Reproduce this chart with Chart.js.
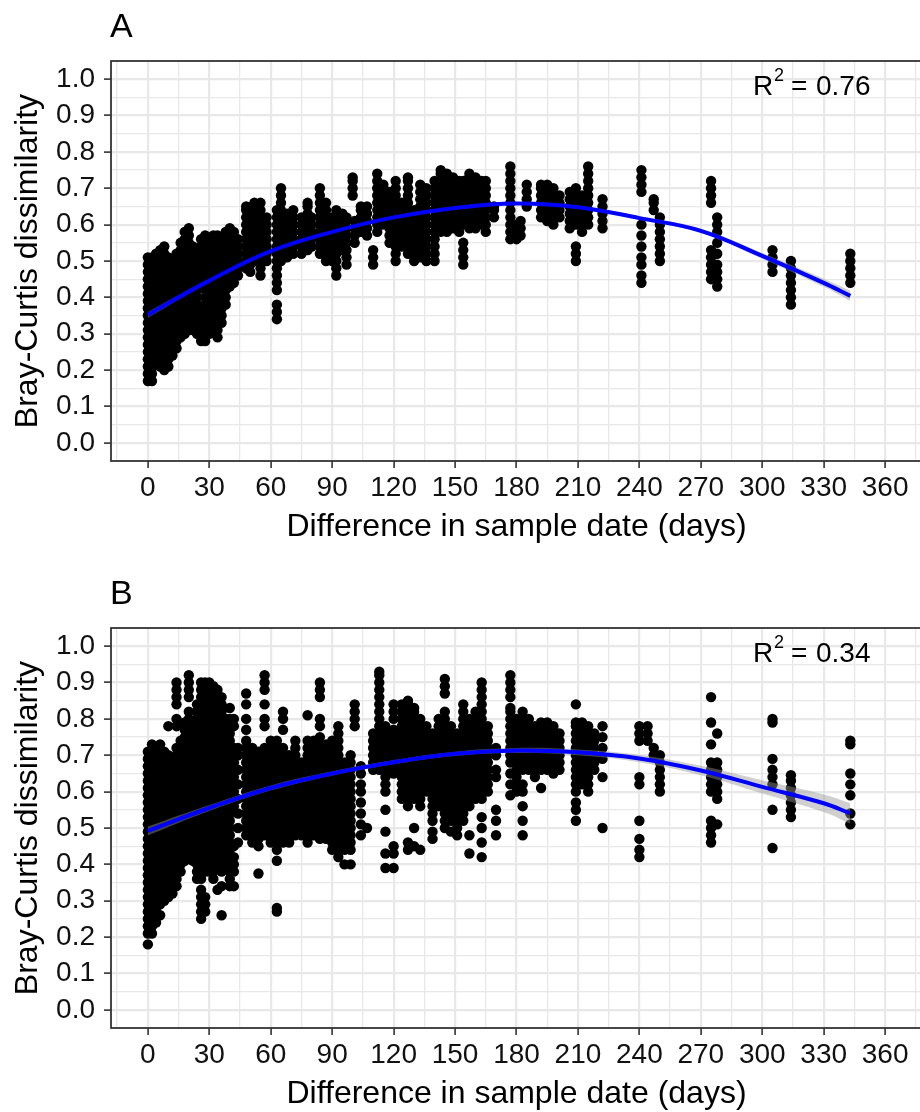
<!DOCTYPE html>
<html>
<head>
<meta charset="utf-8">
<script src="https://cdn.jsdelivr.net/npm/chart.js@4.4.1/dist/chart.umd.min.js"></script>
<style>
  html, body { margin: 0; padding: 0; background: #fff; width: 920px; height: 1112px; overflow: hidden; }
  .panel { position: absolute; left: 0; }
  .panel canvas { display: block; }
  #wrapA { top: 0; }
  #wrapB { top: 567px; }
</style>
</head>
<body>
<div class="panel" id="wrapA"><canvas id="chartA" width="940" height="556"></canvas></div>
<div class="panel" id="wrapB"><canvas id="chartB" width="940" height="556"></canvas></div>
<script>
// axis ticks
const xMajor = [0, 30, 60, 90, 120, 150, 180, 210, 240, 270, 300, 330, 360];
const xLabels = ['0', '30', '60', '90', '120', '150', '180', '210', '240', '270', '300', '330', '360'];
const xMinor = [-15, 15, 45, 75, 105, 135, 165, 195, 225, 255, 285, 315, 345, 375];
const yMajor = [0, 0.1, 0.2, 0.3, 0.4, 0.5, 0.6, 0.7, 0.8, 0.9, 1];
const yLabels = ['0.0', '0.1', '0.2', '0.3', '0.4', '0.5', '0.6', '0.7', '0.8', '0.9', '1.0'];
const yMinor = [0.05, 0.15, 0.25, 0.35, 0.45, 0.55, 0.65, 0.75, 0.85, 0.95];

// panel A: days between samples and the dissimilarities stacked at each day
const daysA = [0, 1, 2, 4, 6, 8, 10, 12, 14, 16, 18, 20, 22, 24, 26, 28, 30, 32, 34, 36, 38, 40, 42, 44,
  48, 50, 52, 55, 58, 63, 65, 68, 71, 75, 78, 80, 84, 87, 90, 92, 95, 97, 100, 101, 104, 107, 110,
  112, 115, 118, 121, 124, 127, 130, 133, 136, 140, 143, 146, 149, 152, 154, 157, 160, 163, 165,
  169, 177, 180, 182, 185, 192, 195, 198, 201, 206, 209, 212, 215, 222, 241, 247, 250, 275, 278,
  305, 314, 343];
const simA = [
  [0.17,0.19,0.21,0.23,0.25,0.27,0.29,0.31,0.33,0.35,0.37,0.39,0.41,0.43,0.45,0.47,0.49,0.51],
  [0.18,0.20,0.22,0.24,0.26,0.28,0.30,0.32,0.34,0.36,0.38,0.40,0.42,0.44,0.46,0.48,0.50],
  [0.17,0.19,0.21,0.23,0.25,0.27,0.29,0.31,0.33,0.35,0.37,0.39,0.41,0.43,0.45,0.47,0.49,0.51],
  [0.22,0.24,0.26,0.28,0.30,0.32,0.34,0.36,0.38,0.40,0.42,0.44,0.46,0.48,0.50,0.52],
  [0.21,0.23,0.25,0.27,0.29,0.31,0.33,0.35,0.37,0.39,0.41,0.43,0.45,0.47,0.49,0.51,0.53],
  [0.20,0.22,0.24,0.26,0.28,0.30,0.32,0.34,0.36,0.38,0.40,0.42,0.44,0.46,0.48,0.50,0.52,0.54],
  [0.21,0.23,0.25,0.27,0.29,0.31,0.33,0.35,0.37,0.39,0.41,0.43,0.45,0.47,0.49,0.51],
  [0.24,0.26,0.28,0.30,0.32,0.34,0.36,0.38,0.40,0.42,0.44,0.46,0.48,0.50],
  [0.26,0.28,0.30,0.32,0.34,0.36,0.38,0.40,0.42,0.44,0.46,0.48,0.50,0.52],
  [0.29,0.31,0.33,0.35,0.37,0.39,0.41,0.43,0.45,0.47,0.49,0.51,0.53,0.55],
  [0.30,0.32,0.34,0.36,0.38,0.40,0.42,0.44,0.46,0.48,0.50,0.52,0.54,0.56,0.58],
  [0.31,0.33,0.35,0.37,0.39,0.41,0.43,0.45,0.47,0.49,0.51,0.53,0.55,0.57,0.59],
  [0.31,0.33,0.35,0.37,0.39,0.41,0.43,0.45,0.47,0.49,0.51,0.53,0.54],
  [0.30,0.32,0.34,0.36,0.38,0.40,0.42,0.44,0.46,0.48,0.50,0.52],
  [0.28,0.30,0.32,0.34,0.36,0.44,0.46,0.48,0.50,0.52,0.54,0.56],
  [0.28,0.30,0.32,0.34,0.36,0.38,0.40,0.42,0.44,0.46,0.48,0.50,0.52,0.54,0.56,0.57],
  [0.30,0.32,0.34,0.36,0.38,0.40,0.42,0.44,0.46,0.48,0.50,0.52,0.54,0.56],
  [0.31,0.33,0.35,0.37,0.39,0.41,0.43,0.45,0.47,0.49,0.51,0.53,0.55,0.57],
  [0.29,0.31,0.33,0.35,0.37,0.39,0.41,0.43,0.45,0.47,0.49,0.51,0.53,0.55,0.57],
  [0.33,0.35,0.37,0.39,0.41,0.43,0.45,0.47,0.49,0.51,0.53,0.55],
  [0.38,0.40,0.42,0.44,0.46,0.48,0.50,0.52,0.54,0.56,0.58],
  [0.43,0.45,0.47,0.49,0.51,0.53,0.55,0.57,0.59],
  [0.44,0.46,0.48,0.50,0.52,0.54,0.56,0.58],
  [0.46,0.48,0.50,0.52,0.54,0.56],
  [0.48,0.50,0.52,0.54,0.56,0.58,0.60,0.62,0.64,0.65],
  [0.47,0.49,0.51,0.53,0.55,0.57,0.59,0.61,0.63],
  [0.50,0.52,0.54,0.56,0.58,0.60,0.62,0.64,0.66],
  [0.46,0.48,0.50,0.52,0.54,0.56,0.58,0.60,0.62,0.64,0.66],
  [0.50,0.52,0.54,0.56,0.58,0.60,0.62],
  [0.34,0.36,0.38,0.42,0.44,0.46,0.48,0.50,0.52,0.54,0.56,0.58,0.60,0.62,0.64],
  [0.50,0.52,0.54,0.56,0.58,0.60,0.62,0.64,0.66,0.68,0.70],
  [0.51,0.53,0.55,0.57,0.59,0.61,0.63],
  [0.52,0.54,0.56,0.58,0.60,0.62,0.64],
  [0.52,0.54,0.56,0.58,0.60,0.62],
  [0.53,0.55,0.57,0.59,0.61,0.63,0.65,0.66],
  [0.54,0.56,0.58,0.60,0.62],
  [0.52,0.54,0.56,0.58,0.60,0.62,0.64,0.66,0.68,0.70],
  [0.50,0.52,0.54,0.56,0.58,0.60,0.62,0.64,0.66],
  [0.50,0.52,0.54,0.56,0.58,0.60,0.62],
  [0.46,0.48,0.50,0.52,0.54,0.56,0.58,0.60,0.62,0.64],
  [0.53,0.55,0.57,0.59,0.61,0.63],
  [0.49,0.51,0.53,0.55,0.57,0.59,0.61,0.62],
  [0.68,0.70,0.72,0.73],
  [0.55,0.57,0.59,0.61],
  [0.58,0.60,0.62,0.64,0.65],
  [0.57,0.59,0.61,0.63,0.65],
  [0.49,0.51,0.53],
  [0.58,0.60,0.62,0.64,0.66,0.68,0.70,0.72,0.74],
  [0.60,0.62,0.64,0.66,0.68,0.70,0.71],
  [0.55,0.57,0.59,0.61,0.63,0.65,0.67,0.69],
  [0.50,0.52,0.54,0.56,0.58,0.60,0.62,0.64,0.66,0.68,0.70,0.72],
  [0.54,0.56,0.58,0.60,0.62,0.64,0.66],
  [0.52,0.54,0.56,0.58,0.60,0.62,0.64,0.66,0.68,0.70,0.72,0.73],
  [0.50,0.52,0.54,0.56,0.58,0.60,0.62,0.64],
  [0.51,0.53,0.55,0.57,0.59,0.61,0.63,0.65,0.67,0.69,0.71],
  [0.50,0.52,0.54,0.56,0.58,0.60,0.62,0.64,0.66,0.68,0.70],
  [0.50,0.52,0.54,0.56,0.58,0.60,0.62,0.64,0.66,0.68,0.70,0.72],
  [0.58,0.60,0.62,0.64,0.66,0.68,0.70,0.72,0.74,0.75],
  [0.58,0.60,0.62,0.64,0.66,0.68,0.70,0.72,0.74],
  [0.59,0.61,0.63,0.65,0.67,0.69,0.71,0.73],
  [0.58,0.60,0.62,0.64,0.66,0.68,0.70,0.72],
  [0.49,0.51,0.53,0.55,0.60,0.62,0.64,0.66,0.68,0.70,0.72],
  [0.59,0.61,0.63,0.65,0.67,0.69,0.71,0.73,0.74],
  [0.59,0.61,0.63,0.65,0.67,0.69,0.71,0.73],
  [0.60,0.62,0.64,0.66,0.68,0.70,0.72],
  [0.58,0.60,0.62,0.64,0.66,0.68,0.70,0.72],
  [0.62,0.64,0.65],
  [0.56,0.58,0.60,0.62,0.64,0.66,0.68,0.70,0.72,0.74,0.76],
  [0.56,0.58,0.60],
  [0.57,0.59,0.61],
  [0.65,0.67,0.69,0.71],
  [0.62,0.64,0.66,0.68,0.70,0.71],
  [0.61,0.63,0.65,0.67,0.69,0.71],
  [0.60,0.62,0.64,0.66,0.68,0.70],
  [0.62,0.64,0.66,0.68],
  [0.59,0.61,0.63,0.65,0.67,0.69],
  [0.50,0.52,0.54,0.60,0.62,0.64,0.66,0.68,0.70],
  [0.58,0.60,0.62,0.64,0.66,0.68],
  [0.60,0.62,0.64,0.66,0.68,0.70,0.72,0.74,0.76],
  [0.59,0.61,0.63,0.65,0.67],
  [0.44,0.46,0.49,0.51,0.54,0.57,0.60,0.69,0.71,0.73,0.75],
  [0.64,0.66,0.67],
  [0.50,0.52,0.54,0.56,0.58,0.60,0.62],
  [0.45,0.47,0.49,0.51,0.53,0.66,0.68,0.70,0.72],
  [0.43,0.45,0.47,0.49,0.52,0.55,0.58,0.60,0.62],
  [0.47,0.49,0.51,0.53],
  [0.38,0.40,0.42,0.44,0.46,0.48,0.50],
  [0.44,0.46,0.48,0.50,0.52]
];

// panel B
const daysB = [0, 1, 2, 4, 6, 8, 10, 12, 14, 16, 18, 20, 22, 24, 26, 28, 30, 32, 34, 36, 38, 40, 42, 44,
  48, 51, 54, 57, 60, 63, 66, 69, 72, 75, 78, 81, 84, 87, 90, 93, 96, 99, 101, 104, 107, 110, 113,
  116, 120, 124, 127, 130, 133, 136, 139, 142, 145, 148, 151, 154, 157, 160, 163, 166, 170, 177,
  180, 183, 186, 189, 192, 195, 198, 201, 209, 212, 215, 218, 222, 240, 244, 247, 250, 275, 278,
  305, 314, 343];
const simB = [
  [0.18,0.21,0.23,0.25,0.27,0.29,0.31,0.33,0.35,0.37,0.39,0.41,0.43,0.45,0.47,0.49,0.51,0.53,0.55,0.57,0.59,0.61,0.63,0.65,0.67,0.69,0.71],
  [0.22,0.24,0.26,0.28,0.30,0.32,0.34,0.36,0.38,0.40,0.42,0.44,0.46,0.48,0.50,0.52,0.54,0.56,0.58,0.60,0.62,0.64,0.66,0.68,0.70],
  [0.21,0.23,0.25,0.27,0.29,0.31,0.33,0.35,0.37,0.39,0.41,0.43,0.45,0.47,0.49,0.51,0.53,0.55,0.57,0.59,0.61,0.63,0.65,0.67,0.69,0.71,0.73],
  [0.24,0.26,0.28,0.30,0.32,0.34,0.36,0.38,0.40,0.42,0.44,0.46,0.48,0.50,0.52,0.54,0.56,0.58,0.60,0.62,0.64,0.66,0.68,0.70,0.72],
  [0.26,0.29,0.31,0.33,0.35,0.37,0.39,0.41,0.43,0.45,0.47,0.49,0.51,0.53,0.55,0.57,0.59,0.61,0.63,0.65,0.67,0.69,0.71,0.73],
  [0.30,0.33,0.35,0.37,0.39,0.41,0.43,0.45,0.47,0.49,0.51,0.53,0.55,0.57,0.59,0.61,0.63,0.65,0.67,0.69,0.71],
  [0.31,0.34,0.36,0.38,0.40,0.42,0.44,0.46,0.48,0.50,0.52,0.54,0.56,0.58,0.60,0.62,0.64,0.66,0.68,0.70,0.78],
  [0.32,0.34,0.37,0.39,0.41,0.43,0.45,0.47,0.49,0.51,0.53,0.55,0.57,0.59,0.61,0.63,0.65,0.67,0.69],
  [0.34,0.36,0.38,0.40,0.42,0.44,0.46,0.48,0.50,0.52,0.54,0.56,0.58,0.60,0.62,0.64,0.66,0.68,0.70,0.72,0.78,0.80,0.84,0.86,0.88,0.90],
  [0.38,0.40,0.42,0.44,0.46,0.48,0.50,0.52,0.54,0.56,0.58,0.60,0.62,0.64,0.66,0.68,0.70,0.72,0.74],
  [0.41,0.43,0.45,0.47,0.49,0.51,0.53,0.55,0.57,0.59,0.61,0.63,0.65,0.67,0.69,0.71,0.73,0.75,0.77,0.79],
  [0.42,0.44,0.46,0.48,0.50,0.52,0.54,0.56,0.58,0.60,0.62,0.64,0.66,0.68,0.70,0.72,0.74,0.76,0.78,0.80,0.82,0.86,0.88,0.90,0.92],
  [0.41,0.43,0.45,0.47,0.49,0.51,0.53,0.55,0.57,0.59,0.61,0.63,0.65,0.67,0.69,0.71,0.73,0.75,0.77,0.79],
  [0.36,0.38,0.40,0.42,0.44,0.46,0.48,0.50,0.52,0.54,0.56,0.58,0.60,0.62,0.64,0.66,0.68,0.70,0.72,0.74,0.76,0.78,0.80,0.82,0.84],
  [0.25,0.27,0.29,0.31,0.33,0.36,0.38,0.40,0.42,0.44,0.46,0.48,0.50,0.52,0.54,0.56,0.58,0.60,0.62,0.64,0.66,0.68,0.70,0.72,0.74,0.76,0.78,0.80,0.82,0.84,0.86,0.88,0.90],
  [0.27,0.29,0.31,0.38,0.40,0.42,0.44,0.46,0.48,0.50,0.52,0.54,0.56,0.58,0.60,0.62,0.64,0.66,0.68,0.70,0.72,0.74,0.76,0.78,0.80,0.82,0.84,0.86,0.88,0.90],
  [0.38,0.40,0.42,0.44,0.46,0.48,0.50,0.52,0.54,0.56,0.58,0.60,0.62,0.64,0.66,0.68,0.70,0.72,0.74,0.76,0.78,0.80,0.82,0.84,0.86,0.88,0.90],
  [0.36,0.38,0.40,0.42,0.44,0.46,0.48,0.50,0.52,0.54,0.56,0.58,0.60,0.62,0.64,0.66,0.68,0.70,0.72,0.74,0.76,0.78,0.80,0.82,0.84,0.86,0.88,0.89],
  [0.33,0.40,0.42,0.44,0.46,0.48,0.50,0.52,0.54,0.56,0.58,0.60,0.62,0.64,0.66,0.68,0.70,0.72,0.74,0.76,0.78,0.80,0.82,0.84,0.86,0.88],
  [0.26,0.34,0.38,0.40,0.42,0.44,0.46,0.48,0.50,0.52,0.54,0.56,0.58,0.60,0.62,0.64,0.66,0.68,0.70,0.72,0.74,0.76,0.78,0.80,0.82,0.84,0.86],
  [0.40,0.42,0.44,0.46,0.48,0.50,0.52,0.54,0.56,0.58,0.60,0.62,0.64,0.66,0.68,0.70,0.72,0.74,0.76,0.78,0.80],
  [0.34,0.36,0.38,0.41,0.44,0.46,0.48,0.50,0.52,0.54,0.60,0.62,0.64,0.66,0.68,0.70,0.72,0.74,0.76,0.78,0.80,0.83],
  [0.34,0.38,0.40,0.42,0.45,0.56,0.58,0.60,0.62,0.64,0.66,0.68,0.70,0.72,0.78,0.80],
  [0.46,0.50,0.54,0.58,0.62,0.66,0.70,0.72],
  [0.48,0.50,0.52,0.54,0.56,0.58,0.60,0.62,0.64,0.66,0.68,0.70,0.72,0.74,0.77,0.80,0.84,0.87],
  [0.46,0.48,0.50,0.52,0.54,0.56,0.58,0.60,0.62,0.64,0.66,0.68,0.70,0.72],
  [0.375,0.45,0.47,0.49,0.51,0.53,0.55,0.57,0.59,0.61,0.63,0.65,0.67,0.69,0.71],
  [0.48,0.50,0.52,0.54,0.56,0.58,0.60,0.62,0.64,0.66,0.68,0.70,0.72,0.78,0.80,0.84,0.88,0.90,0.92],
  [0.46,0.48,0.50,0.52,0.54,0.56,0.58,0.60,0.62,0.64,0.66,0.68,0.70,0.72,0.74],
  [0.27,0.28,0.41,0.44,0.46,0.48,0.50,0.52,0.54,0.56,0.58,0.60,0.62,0.64,0.66,0.68,0.70,0.72,0.74],
  [0.46,0.48,0.50,0.52,0.54,0.56,0.58,0.60,0.62,0.64,0.66,0.68,0.70,0.72,0.77,0.80,0.82],
  [0.46,0.48,0.50,0.52,0.54,0.56,0.58,0.60,0.62,0.64,0.66,0.68,0.70],
  [0.48,0.50,0.52,0.54,0.56,0.58,0.60,0.62,0.64,0.66,0.68,0.70,0.72,0.74],
  [0.48,0.50,0.52,0.54,0.56,0.58,0.60,0.62,0.64,0.66,0.68],
  [0.46,0.48,0.50,0.52,0.54,0.56,0.58,0.60,0.62,0.64,0.66,0.68,0.70,0.72,0.74,0.81],
  [0.48,0.50,0.52,0.54,0.56,0.58,0.60,0.62,0.64,0.66,0.68,0.70,0.72,0.74],
  [0.47,0.49,0.51,0.53,0.55,0.57,0.59,0.61,0.63,0.65,0.67,0.69,0.71,0.73,0.75,0.78,0.80,0.86,0.88,0.90],
  [0.47,0.49,0.51,0.53,0.55,0.57,0.59,0.61,0.63,0.65,0.67,0.69,0.71,0.73],
  [0.44,0.46,0.48,0.50,0.52,0.54,0.56,0.58,0.60,0.62,0.64,0.66,0.68,0.70,0.72,0.74],
  [0.42,0.44,0.46,0.48,0.50,0.52,0.54,0.56,0.58,0.60,0.62,0.64,0.66,0.68,0.70,0.72,0.74,0.76,0.78],
  [0.40,0.44,0.46,0.48,0.50,0.52,0.54,0.56,0.58,0.60,0.62,0.64,0.66,0.68],
  [0.40,0.44,0.46,0.48,0.50,0.52,0.54,0.56,0.58,0.60,0.62,0.64,0.66,0.68,0.70],
  [0.78,0.80,0.82,0.84],
  [0.48,0.51,0.54,0.57,0.60,0.62,0.65,0.67],
  [0.50],
  [0.66,0.68,0.70,0.72,0.74,0.76],
  [0.66,0.68,0.70,0.72,0.74,0.76,0.78,0.80,0.82,0.84,0.86,0.88,0.90,0.92,0.93],
  [0.39,0.43,0.49,0.55,0.60,0.62,0.64,0.66,0.68,0.70,0.72,0.74,0.76,0.78],
  [0.39,0.43,0.45,0.65,0.67,0.69,0.71,0.73,0.75,0.77,0.80,0.82,0.84],
  [0.58,0.60,0.62,0.64,0.66,0.68,0.70,0.72,0.74,0.76,0.78,0.80,0.82,0.84],
  [0.44,0.46,0.56,0.58,0.60,0.62,0.64,0.66,0.68,0.70,0.72,0.74,0.76,0.78,0.80,0.82,0.84,0.85],
  [0.45,0.50,0.58,0.60,0.62,0.64,0.66,0.68,0.70,0.72,0.74,0.76,0.78,0.80,0.82,0.83],
  [0.44,0.56,0.58,0.60,0.62,0.64,0.66,0.68,0.70,0.72,0.74,0.76,0.78,0.80],
  [0.60,0.62,0.64,0.66,0.68,0.70,0.72,0.74,0.76,0.78],
  [0.47,0.49,0.52,0.54,0.56,0.58,0.60,0.62,0.64,0.66,0.68,0.70,0.72,0.74,0.76],
  [0.56,0.58,0.60,0.62,0.64,0.66,0.68,0.70,0.72,0.74,0.76,0.78,0.80],
  [0.50,0.52,0.54,0.56,0.58,0.60,0.62,0.64,0.66,0.68,0.70,0.72,0.74,0.76,0.78,0.80,0.82,0.87,0.89,0.91],
  [0.49,0.52,0.54,0.56,0.58,0.60,0.62,0.64,0.66,0.68,0.70,0.72,0.74,0.76,0.78],
  [0.48,0.50,0.52,0.54,0.56,0.58,0.60,0.62,0.64,0.66,0.68,0.70,0.72,0.74,0.76],
  [0.52,0.54,0.56,0.58,0.60,0.62,0.64,0.66,0.68,0.70,0.72,0.74,0.76,0.78,0.80,0.82,0.84],
  [0.43,0.48,0.56,0.58,0.60,0.62,0.64,0.66,0.68,0.70,0.72,0.74,0.76,0.78,0.80],
  [0.58,0.60,0.62,0.64,0.66,0.68,0.70,0.72,0.74,0.76,0.78,0.80,0.82],
  [0.42,0.46,0.50,0.53,0.58,0.60,0.62,0.64,0.66,0.68,0.70,0.72,0.74,0.76,0.78,0.80,0.82,0.84,0.86,0.88,0.90],
  [0.60,0.62,0.64,0.66,0.68,0.70,0.72,0.74,0.76,0.78],
  [0.48,0.52,0.55,0.64,0.66,0.70,0.72],
  [0.59,0.62,0.65,0.68,0.70,0.72,0.74,0.76,0.78,0.80,0.82,0.83,0.86,0.88,0.90,0.92],
  [0.60,0.62,0.64,0.66,0.68,0.70,0.72,0.74,0.76,0.78,0.80],
  [0.48,0.52,0.56,0.60,0.62,0.66,0.68,0.70,0.72,0.74,0.76,0.78,0.80,0.82],
  [0.66,0.68,0.70,0.72,0.74,0.76,0.78,0.80],
  [0.64,0.66,0.68,0.70,0.72,0.74,0.76,0.78],
  [0.61,0.66,0.68,0.70,0.72,0.74,0.76,0.78,0.79],
  [0.66,0.68,0.70,0.72,0.74,0.76,0.78,0.79],
  [0.65,0.67,0.69,0.71,0.73,0.75,0.77,0.78],
  [0.66,0.68,0.70,0.72,0.74,0.76],
  [0.52,0.55,0.57,0.60,0.62,0.64,0.66,0.68,0.70,0.72,0.74,0.76,0.78,0.79,0.84],
  [0.62,0.64,0.66,0.68,0.70,0.72,0.74,0.76,0.78,0.79],
  [0.60,0.62,0.64,0.66,0.68,0.70,0.72,0.74,0.76,0.78],
  [0.66,0.68,0.70,0.72,0.74,0.76],
  [0.50,0.64,0.69,0.72,0.75,0.78],
  [0.42,0.44,0.47,0.52,0.62,0.64,0.74,0.76,0.78],
  [0.74,0.76,0.78],
  [0.70,0.72],
  [0.60,0.62,0.64,0.66,0.68,0.70],
  [0.46,0.48,0.50,0.52,0.60,0.62,0.64,0.66,0.68,0.73,0.79,0.86],
  [0.51,0.58,0.60,0.62,0.64,0.66,0.68,0.76],
  [0.445,0.55,0.62,0.64,0.66,0.69,0.79,0.80],
  [0.53,0.55,0.57,0.59,0.61,0.63,0.645],
  [0.51,0.54,0.59,0.62,0.65,0.73,0.74]
];

// fitted curves with their standard-error half widths
const fitDays = [0, 30, 60, 90, 120, 150, 180, 210, 240, 270, 300, 330, 343];
const fitA = [0.352, 0.446, 0.527, 0.580, 0.620, 0.646, 0.658, 0.648, 0.618, 0.583, 0.514, 0.440, 0.404];
const seA = [0.008, 0.005, 0.004, 0.004, 0.004, 0.004, 0.004, 0.004, 0.005, 0.006, 0.008, 0.011, 0.014];
const fitB = [0.492, 0.555, 0.610, 0.650, 0.681, 0.704, 0.713, 0.708, 0.691, 0.658, 0.613, 0.568, 0.540];
const seB = [0.012, 0.008, 0.007, 0.006, 0.006, 0.006, 0.007, 0.008, 0.010, 0.013, 0.018, 0.024, 0.028];

Chart.defaults.font.family = '"Liberation Sans", Arial, sans-serif';

const panelText = {
    id: 'panelText',
    afterDraw(chart, args, o) {
        const c = chart.ctx;
        const a = chart.chartArea;
        c.save();
        c.strokeStyle = '#333';
        c.lineWidth = 1.8;
        c.strokeRect(a.left, a.top, a.right - a.left, a.bottom - a.top);
        c.fillStyle = '#000';
        c.textAlign = 'left';
        c.textBaseline = 'alphabetic';
        c.font = '34px "Liberation Sans"';
        c.fillText(o.letter, 110, 37);
        c.font = '28px "Liberation Sans"';
        c.fillText('R', 753, 95);
        c.fillText('=', 791, 95);
        c.fillText(o.r2, 816, 95);
        c.font = '18px "Liberation Sans"';
        c.fillText('2', 774, 81);
        c.restore();
    }
};

function toPoints(days, sims) {
    const pts = [];
    days.forEach((d, i) => sims[i].forEach(v => pts.push({ x: d, y: v })));
    return pts;
}

function curve(fit, se, sign) {
    return fitDays.map((d, i) => ({ x: d, y: fit[i] + sign * se[i] }));
}

function initPanel(ctx, days, sims, fit, se, letter, r2) {
    const xAll = xMajor.concat(xMinor).sort((a, b) => a - b);
    const yAll = yMajor.concat(yMinor).sort((a, b) => a - b);
    const isMajorX = v => xMajor.indexOf(v) >= 0;
    const isMajorY = v => yMajor.indexOf(v) >= 0;

    new Chart(ctx, {
        type: 'scatter',
        data: {
            datasets: [
                { data: toPoints(days, sims), backgroundColor: '#000', borderWidth: 0, pointRadius: 5.2, order: 3 },
                { type: 'line', data: curve(fit, se, -1), borderColor: 'rgba(0,0,0,0)', pointRadius: 0, tension: 0.4, fill: false, order: 1 },
                { type: 'line', data: curve(fit, se, 1), borderColor: 'rgba(0,0,0,0)', pointRadius: 0, tension: 0.4,
                  fill: '-1', backgroundColor: 'rgba(150,150,150,0.45)', order: 1 },
                { type: 'line', data: curve(fit, se, 0), borderColor: '#0000ff', borderWidth: 4, pointRadius: 0, tension: 0.4, fill: false, order: 0 }
            ]
        },
        options: {
            responsive: false,
            animation: false,
            events: [],
            layout: { padding: { top: 61, right: 18, bottom: 0, left: 0 } },
            plugins: {
                legend: { display: false },
                tooltip: { enabled: false },
                panelText: { letter: letter, r2: r2 }
            },
            scales: {
                x: {
                    type: 'linear',
                    min: -18,
                    max: 378,
                    afterBuildTicks: s => { s.ticks = xAll.map(v => ({ value: v })); },
                    afterFit: s => { s.height = 95; },
                    ticks: {
                        autoSkip: false, maxRotation: 0, padding: 3, color: '#111', font: { size: 28 },
                        callback: v => { const i = xMajor.indexOf(v); return i >= 0 ? xLabels[i] : ''; }
                    },
                    grid: {
                        color: '#e8e8e8',
                        lineWidth: c => (c.tick && isMajorX(c.tick.value)) ? 2.2 : 1.3,
                        tickLength: 7,
                        tickWidth: 1.6,
                        tickColor: c => (c.tick && isMajorX(c.tick.value)) ? '#333' : 'rgba(0,0,0,0)'
                    },
                    border: { display: false },
                    title: {
                        display: true, text: 'Difference in sample date (days)', color: '#000',
                        font: { size: 32 }, padding: { top: 0, bottom: 10 }
                    }
                },
                y: {
                    type: 'linear',
                    min: -0.05,
                    max: 1.05,
                    afterBuildTicks: s => { s.ticks = yAll.map(v => ({ value: v })); },
                    afterFit: s => { s.width = 111; },
                    ticks: {
                        autoSkip: false, padding: 9, color: '#111', font: { size: 28 },
                        callback: v => { const i = yMajor.indexOf(v); return i >= 0 ? yLabels[i] : ''; }
                    },
                    grid: {
                        color: '#e8e8e8',
                        lineWidth: c => (c.tick && isMajorY(c.tick.value)) ? 2.2 : 1.3,
                        tickLength: 7,
                        tickWidth: 1.6,
                        tickColor: c => (c.tick && isMajorY(c.tick.value)) ? '#333' : 'rgba(0,0,0,0)'
                    },
                    border: { display: false },
                    title: {
                        display: true, text: 'Bray-Curtis dissimilarity', color: '#000',
                        font: { size: 32 }, padding: { top: 9, bottom: 0 }
                    }
                }
            }
        },
        plugins: [panelText]
    });
}

initPanel(document.getElementById('chartA'), daysA, simA, fitA, seA, 'A', '0.76');
initPanel(document.getElementById('chartB'), daysB, simB, fitB, seB, 'B', '0.34');
</script>
</body>
</html>
